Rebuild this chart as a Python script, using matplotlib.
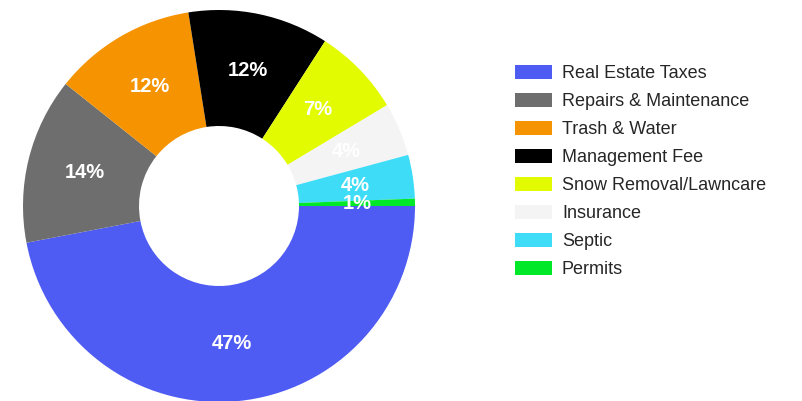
import matplotlib.pyplot as plt

categories = ["Real Estate Taxes", "Repairs & Maintenance", "Trash & Water",
              "Management Fee", "Snow Removal/Lawncare", "Insurance",
              "Septic", "Permits"]
values = [47.0, 13.7, 11.8, 11.6, 7.3, 4.4, 3.6, 0.6]
colors = ["#4f5cf3", "#6e6e6e", "#f59300", "#000000", "#e2fb00",
          "#f4f4f4", "#3fdcf8", "#00e828"]

plt.rcParams['font.family'] = ['Liberation Sans', 'DejaVu Sans']

W, H = 803, 401
fig = plt.figure(figsize=(W / 100, H / 100), dpi=100)

# donut: center (219, 206) px, outer radius 196 px, hole radius 80 px
cx, cy, R, r = 219, 206, 196, 80
ax = fig.add_axes([(cx - R) / W, (H - cy - R) / H, 2 * R / W, 2 * R / H])
wedges, texts, autotexts = ax.pie(
    values, colors=colors, startangle=0, counterclock=False, radius=1,
    autopct="%1.0f%%", pctdistance=(R + r) / 2 / R,
    wedgeprops=dict(width=(R - r) / R, linewidth=0),
    textprops=dict(color="white", fontsize=14.5, fontweight="bold"))
ax.set_xlim(-1, 1)
ax.set_ylim(-1, 1)
ax.set_aspect("equal")
ax.axis("off")

fig.legend(wedges, categories, loc="upper left",
           bbox_to_anchor=(515 / W, 1 - 65 / H), frameon=False,
           fontsize=13, handlelength=2.05, handleheight=0.83,
           handletextpad=0.55, labelspacing=0.59, borderpad=0,
           borderaxespad=0, labelcolor="#262626")

fig.savefig("out.png", dpi=100)
